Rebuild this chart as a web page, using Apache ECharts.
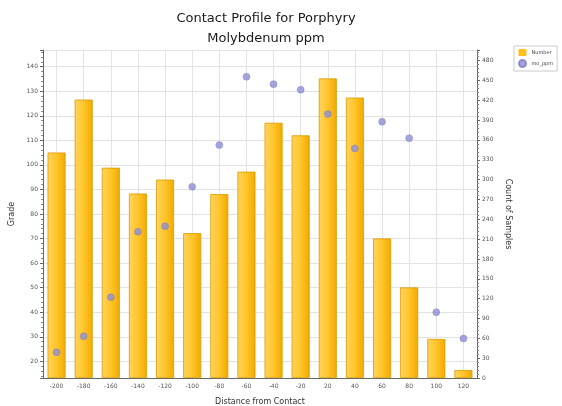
<!DOCTYPE html>
<html>
<head>
<meta charset="utf-8">
<script src="https://cdn.jsdelivr.net/npm/echarts@6/dist/echarts.min.js"></script>
<style>
  html, body { margin: 0; padding: 0; background: #fff; }
  #chart { width: 562px; height: 406px; }
</style>
</head>
<body>
<div id="chart"></div>
<script>
// distance from contact (category labels)
var categories = ['-200', '-180', '-160', '-140', '-120', '-100', '-80', '-60',
  '-40', '-20', '20', '40', '60', '80', '100', '120'];
// count of samples (bars, right axis)
var numberCounts = [341, 421, 318, 279, 300, 219, 278, 312, 386, 367, 453, 424, 211, 137, 59, 12];
// molybdenum grade (points, left axis)
var moPpm = [23.7, 30.2, 46.1, 72.8, 75, 91.1, 108.1, 135.9, 132.9, 130.6, 120.7, 106.7, 117.6, 110.9, 40, 29.3];

var chart = echarts.init(document.getElementById('chart'));

var axisTxt = { fontSize: 6, color: '#555', fontFamily: 'DejaVu Sans' };

var option = {
  backgroundColor: '#fff',
  animation: false,
  title: {
    text: 'Contact Profile for Porphyry\nMolybdenum ppm',
    left: 261,
    textAlign: 'center',
    top: 4,
    textStyle: { fontSize: 13, fontWeight: 'normal', color: '#1a1a1a', fontFamily: 'DejaVu Sans', lineHeight: 20 }
  },
  legend: {
    orient: 'vertical',
    left: 514,
    top: 46,
    itemWidth: 8,
    itemHeight: 7,
    itemGap: 3,
    padding: [3, 4],
    borderColor: '#ccc',
    borderWidth: 1,
    textStyle: { fontSize: 5, color: '#444', fontFamily: 'DejaVu Sans' },
    data: [
      { name: 'Number', icon: 'rect', itemStyle: { color: '#ffbf1f', borderWidth: 0 } },
      { name: 'mo_ppm', icon: 'circle' }
    ]
  },
  grid: { left: 43, right: 85, top: 50, bottom: 28, outerBoundsMode: 'none', containLabel: false },
  xAxis: {
    type: 'category',
    data: categories,
    name: 'Distance from Contact',
    nameLocation: 'middle',
    nameGap: 20,
    nameTextStyle: { fontSize: 8, color: '#333', fontFamily: 'DejaVu Sans' },
    axisLine: { lineStyle: { color: '#666' } },
    axisTick: { alignWithLabel: true, length: 3, lineStyle: { color: '#666' } },
    axisLabel: Object.assign({ margin: 5, interval: 0 }, axisTxt),
    splitLine: { show: true, alignWithLabel: true, lineStyle: { color: '#e3e3e3' } }
  },
  yAxis: [
    {
      type: 'value',
      name: 'Grade',
      nameLocation: 'middle',
      nameGap: 19,
      nameTextStyle: { fontSize: 8, color: '#333', fontFamily: 'DejaVu Sans' },
      min: 13.2,
      max: 146.8,
      minInterval: 10,
      maxInterval: 10,
      axisLine: { show: true, lineStyle: { color: '#666' } },
      axisTick: { show: true, length: 3, lineStyle: { color: '#666' } },
      minorTick: { show: true, splitNumber: 5, length: 2, lineStyle: { color: '#888' } },
      axisLabel: Object.assign({ margin: 5, showMinLabel: false, showMaxLabel: false }, axisTxt),
      splitLine: { show: true, lineStyle: { color: '#e3e3e3' } }
    },
    {
      type: 'value',
      name: 'Count of Samples',
      nameLocation: 'middle',
      nameGap: 23,
      nameRotate: -90,
      nameTextStyle: { fontSize: 8, color: '#333', fontFamily: 'DejaVu Sans' },
      min: 0,
      max: 496,
      interval: 30,
      axisLine: { show: true, lineStyle: { color: '#666' } },
      axisTick: { show: true, length: 3, lineStyle: { color: '#666' } },
      minorTick: { show: true, splitNumber: 5, length: 2, lineStyle: { color: '#888' } },
      axisLabel: Object.assign({ margin: 5, showMaxLabel: false }, axisTxt),
      splitLine: { show: false }
    }
  ],
  series: [
    {
      name: 'Number',
      type: 'bar',
      yAxisIndex: 1,
      barWidth: 18,
      itemStyle: {
        color: new echarts.graphic.LinearGradient(0, 0, 1, 0, [
          { offset: 0, color: '#ffd45e' },
          { offset: 0.5, color: '#ffc52a' },
          { offset: 1, color: '#f2a900' }
        ]),
        borderColor: '#d99a00',
        borderWidth: 0.8
      },
      data: numberCounts
    },
    {
      name: 'mo_ppm',
      type: 'scatter',
      yAxisIndex: 0,
      symbolSize: 7,
      z: 3,
      itemStyle: { color: '#8f8fd6', borderColor: '#7a7ac4', borderWidth: 0.5 },
      data: moPpm
    }
  ]
};

chart.setOption(option);
</script>
</body>
</html>
